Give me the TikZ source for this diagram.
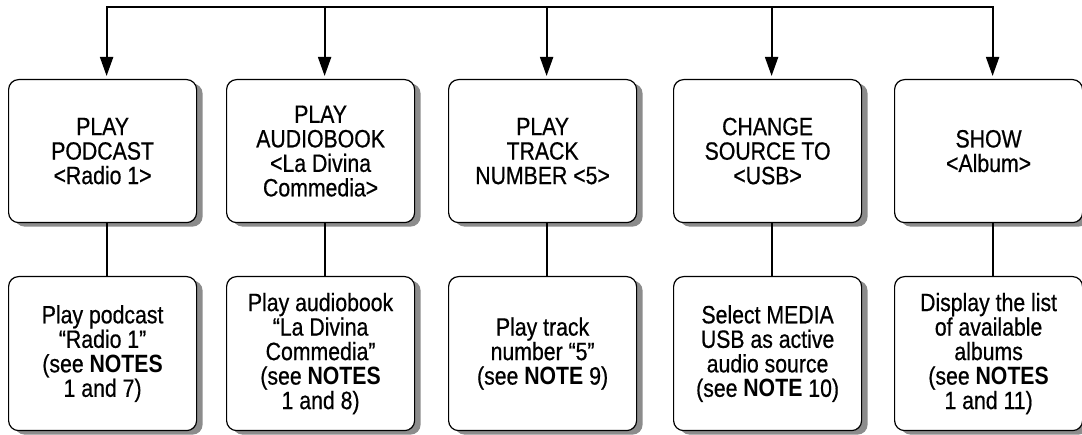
\documentclass[tikz,border=0pt]{standalone}
\usepackage{fontspec}
\setmainfont{Liberation Sans}[FakeStretch=0.85, UprightFeatures={FakeBold=0.6}]
\usetikzlibrary{shadows,arrows.meta}
\begin{document}
\begin{tikzpicture}[x=1pt,y=-1pt,
  box/.style={draw=black, line width=1.2pt, rounded corners=10pt, fill=white,
    anchor=north west, minimum width=188pt, align=center, inner sep=0pt,
    font=\fontsize{25}{24.5}\selectfont,
    drop shadow={shadow xshift=6pt, shadow yshift=-4pt, fill=black!45, opacity=1}},
  topbox/.style={box, minimum height=143pt},
  botbox/.style={box, minimum height=154pt},
  conn/.style={line width=2pt, line join=miter},
  arr/.style={conn, -{Triangle[length=19pt,width=13pt]}, shorten >=3pt},
  dbl/.style={conn, {Triangle[length=19pt,width=13pt]}-{Triangle[length=19pt,width=13pt]}, shorten >=3pt, shorten <=3pt}
]
\useasboundingbox (0,0) rectangle (1082,435);

\node[topbox] (t1) at (8,79)   {PLAY\\PODCAST\\<Radio 1>};
\node[topbox] (t2) at (226,79) {PLAY\\AUDIOBOOK\\<La Divina\\Commedia>};
\node[topbox] (t3) at (448,79) {PLAY\\TRACK\\NUMBER <5>};
\node[topbox] (t4) at (673,79) {CHANGE\\SOURCE TO\\<USB>};
\node[topbox] (t5) at (894,79) {SHOW\\<Album>};

\node[botbox] (b1) at (8,276)   {Play podcast\\“Radio 1”\\(see \textbf{NOTES}\\1 and 7)};
\node[botbox] (b2) at (226,276) {Play audiobook\\“La Divina\\Commedia”\\(see \textbf{NOTES}\\1 and 8)};
\node[botbox] (b3) at (448,276) {Play track\\number “5”\\(see \textbf{NOTE} 9)};
\node[botbox] (b4) at (673,276) {Select MEDIA\\USB as active\\audio source\\(see \textbf{NOTE} 10)};
\node[botbox] (b5) at (894,276) {Display the list\\of available\\albums\\(see \textbf{NOTES}\\1 and 11)};

\coordinate (top) at (0,7);
\foreach \i in {1,...,5} {
  \coordinate (j\i) at ([xshift=4pt]t\i.north |- top);
}
\draw[dbl] ([xshift=4pt]t1.north) -- (j1) -- (j5) -- ([xshift=4pt]t5.north);
\foreach \i in {2,3,4} {
  \draw[arr] (j\i) -- ([xshift=4pt]t\i.north);
}
\foreach \i in {1,...,5} {
  \draw[conn] ([xshift=4pt]t\i.south) -- ([xshift=4pt]b\i.north);
}
\end{tikzpicture}
\end{document}
